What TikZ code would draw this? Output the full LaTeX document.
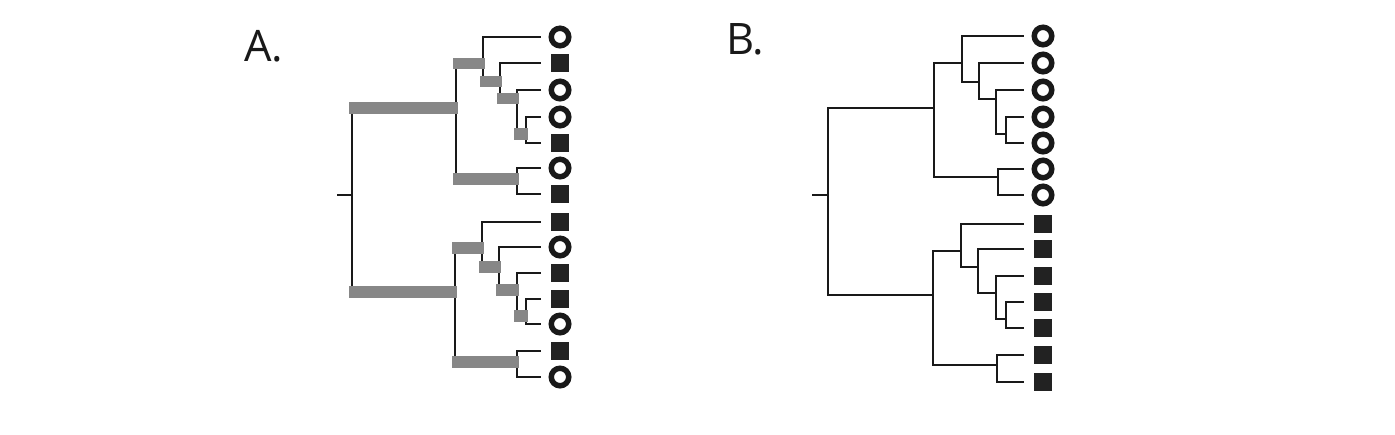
\documentclass[tikz,border=0pt]{standalone}
\usepackage{fontspec}
\setmainfont{Open Sans}
\definecolor{bargray}{gray}{0.53}
\definecolor{markgray}{HTML}{222222}

\begin{document}
\begin{tikzpicture}[x=0.5pt, y=-0.5pt, line width=1.05pt, color=black!90,
  every node/.style={inner sep=0pt},
  openmark/.style={circle, draw, line width=2.75pt, minimum size=8.75pt},
  shutmark/.style={rectangle, fill=markgray, minimum size=8.75pt, outer sep=1.375pt},
  tip/.style={shorten >=4pt},
  bar/.style={draw=bargray, line width=5.75pt, shorten <=-1.5pt, shorten >=-1pt},
  panel/.style={anchor=base west, font=\fontsize{21.7}{26}\selectfont}]

\def\tipA{560}
\def\tipB{1043}

\useasboundingbox (0,0) rectangle (1395,434);

  % Panel A
  \node (labA) [panel] at (243,61) {A.};

  \node (tA1) [openmark] at (\tipA,37) {};
  \node (tA2) [shutmark] at (\tipA,63) {};
  \node (tA3) [openmark] at (\tipA,90) {};
  \node (tA4) [openmark] at (\tipA,117) {};
  \node (tA5) [shutmark] at (\tipA,143) {};
  \node (tA6) [openmark] at (\tipA,168) {};
  \node (tA7) [shutmark] at (\tipA,194) {};
  \node (tA8) [shutmark] at (\tipA,222) {};
  \node (tA9) [openmark] at (\tipA,247) {};
  \node (tA10) [shutmark] at (\tipA,273) {};
  \node (tA11) [shutmark] at (\tipA,299) {};
  \node (tA12) [openmark] at (\tipA,324) {};
  \node (tA13) [shutmark] at (\tipA,351) {};
  \node (tA14) [openmark] at (\tipA,377) {};

  \coordinate (rootA) at (352,195);
  \coordinate (upA) at (456,108);
  \coordinate (upA1) at (483,63.5);
  \coordinate (upA2) at (500,81.5);
  \coordinate (upA3) at (517,98.5);
  \coordinate (upA4) at (526,134);
  \coordinate (upA5) at (517,179);
  \coordinate (loA) at (455,292);
  \coordinate (loA1) at (482,248);
  \coordinate (loA2) at (499,267);
  \coordinate (loA3) at (517,290);
  \coordinate (loA4) at (526,316);
  \coordinate (loA5) at (517,362);

  % Branches
  \draw (rootA) -- ++(-15,0);
  \draw (rootA) |- (upA) (rootA) |- (loA);
  \draw (upA) |- (upA1) (upA) |- (upA5) (upA1) |- (upA2) (upA2) |- (upA3) (upA3) |- (upA4);
  \draw (loA) |- (loA1) (loA) |- (loA5) (loA1) |- (loA2) (loA2) |- (loA3) (loA3) |- (loA4);
  \draw[tip] (upA1) |- (tA1.west);
  \draw[tip] (upA2) |- (tA2.west);
  \draw[tip] (upA3) |- (tA3.west);
  \draw[tip] (upA4) |- (tA4.west);
  \draw[tip] (upA4) |- (tA5.west);
  \draw[tip] (upA5) |- (tA6.west);
  \draw[tip] (upA5) |- (tA7.west);
  \draw[tip] (loA1) |- (tA8.west);
  \draw[tip] (loA2) |- (tA9.west);
  \draw[tip] (loA3) |- (tA10.west);
  \draw[tip] (loA4) |- (tA11.west);
  \draw[tip] (loA4) |- (tA12.west);
  \draw[tip] (loA5) |- (tA13.west);
  \draw[tip] (loA5) |- (tA14.west);

  % Shaded branches
  \draw[bar] (rootA |- upA) -- (upA);
  \draw[bar] (rootA |- loA) -- (loA);
  \draw[bar] (upA |- upA1) -- (upA1);
  \draw[bar] (upA1 |- upA2) -- (upA2);
  \draw[bar] (upA2 |- upA3) -- (upA3);
  \draw[bar] (upA3 |- upA4) -- (upA4);
  \draw[bar] (upA |- upA5) -- (upA5);
  \draw[bar] (loA |- loA1) -- (loA1);
  \draw[bar] (loA1 |- loA2) -- (loA2);
  \draw[bar] (loA2 |- loA3) -- (loA3);
  \draw[bar] (loA3 |- loA4) -- (loA4);
  \draw[bar] (loA |- loA5) -- (loA5);

  % Panel B
  \node (labB) [panel] at (725,54) {B.};

  \node (tB1) [openmark] at (\tipB,36) {};
  \node (tB2) [openmark] at (\tipB,63) {};
  \node (tB3) [openmark] at (\tipB,90) {};
  \node (tB4) [openmark] at (\tipB,117) {};
  \node (tB5) [openmark] at (\tipB,143) {};
  \node (tB6) [openmark] at (\tipB,169) {};
  \node (tB7) [openmark] at (\tipB,195) {};
  \node (tB8) [shutmark] at (\tipB,224) {};
  \node (tB9) [shutmark] at (\tipB,249) {};
  \node (tB10) [shutmark] at (\tipB,276) {};
  \node (tB11) [shutmark] at (\tipB,302) {};
  \node (tB12) [shutmark] at (\tipB,328) {};
  \node (tB13) [shutmark] at (\tipB,355) {};
  \node (tB14) [shutmark] at (\tipB,382) {};

  \coordinate (rootB) at (828,195);
  \coordinate (upB) at (934,108);
  \coordinate (upB1) at (962,63);
  \coordinate (upB2) at (979,82);
  \coordinate (upB3) at (996,99);
  \coordinate (upB4) at (1006,134);
  \coordinate (upB5) at (998,177);
  \coordinate (loB) at (933,295);
  \coordinate (loB1) at (961,251);
  \coordinate (loB2) at (978,267);
  \coordinate (loB3) at (996,293);
  \coordinate (loB4) at (1006,319);
  \coordinate (loB5) at (997,365);

  % Branches
  \draw (rootB) -- ++(-16,0);
  \draw (rootB) |- (upB) (rootB) |- (loB);
  \draw (upB) |- (upB1) (upB) |- (upB5) (upB1) |- (upB2) (upB2) |- (upB3) (upB3) |- (upB4);
  \draw (loB) |- (loB1) (loB) |- (loB5) (loB1) |- (loB2) (loB2) |- (loB3) (loB3) |- (loB4);
  \draw[tip] (upB1) |- (tB1.west);
  \draw[tip] (upB2) |- (tB2.west);
  \draw[tip] (upB3) |- (tB3.west);
  \draw[tip] (upB4) |- (tB4.west);
  \draw[tip] (upB4) |- (tB5.west);
  \draw[tip] (upB5) |- (tB6.west);
  \draw[tip] (upB5) |- (tB7.west);
  \draw[tip] (loB1) |- (tB8.west);
  \draw[tip] (loB2) |- (tB9.west);
  \draw[tip] (loB3) |- (tB10.west);
  \draw[tip] (loB4) |- (tB11.west);
  \draw[tip] (loB4) |- (tB12.west);
  \draw[tip] (loB5) |- (tB13.west);
  \draw[tip] (loB5) |- (tB14.west);

\end{tikzpicture}
\end{document}
